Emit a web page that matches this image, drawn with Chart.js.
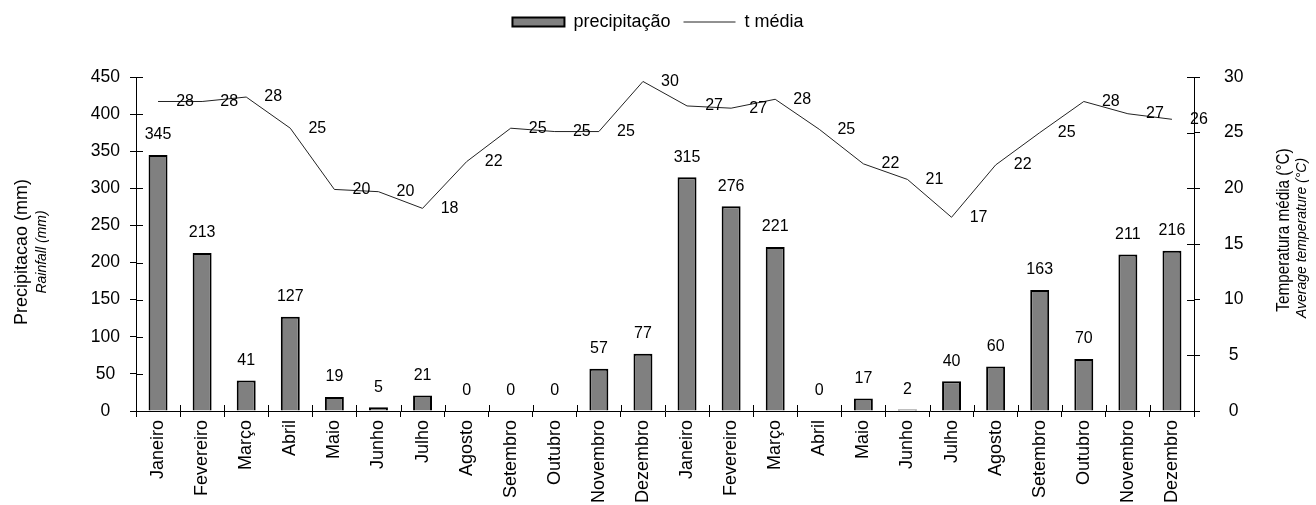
<!DOCTYPE html>
<html lang="pt">
<head>
<meta charset="utf-8">
<title>Precipitação e temperatura média</title>
<script src="https://cdn.jsdelivr.net/npm/chart.js@4.4.1/dist/chart.umd.min.js"></script>
<style>
  html, body { margin: 0; padding: 0; background: #fff; }
  #wrap { width: 1316px; height: 505px; }
</style>
</head>
<body>
<div id="wrap"><canvas id="grafico"></canvas></div>
<script>
/* ---------- dados ---------- */
const meses = ['Janeiro', 'Fevereiro', 'Março', 'Abril', 'Maio', 'Junho',
               'Julho', 'Agosto', 'Setembro', 'Outubro', 'Novembro', 'Dezembro'];
const categorias = meses.concat(meses); // dois anos seguidos

const precipitacao = [345, 213, 41, 127, 19, 5, 21, 0, 0, 0, 57, 77,
                      315, 276, 221, 0, 17, 2, 40, 60, 163, 70, 211, 216];
const tMedia = [27.8, 27.8, 28.2, 25.4, 19.9, 19.7, 18.2, 22.4, 25.4, 25.1, 25.1, 29.6,
                27.4, 27.2, 28.0, 25.3, 22.2, 20.8, 17.4, 22.1, 25.0, 27.8, 26.7, 26.2];

const escalaPrecip = [0, 450, 50]; // min, max, passo
const escalaTemp = [0, 30, 5];

/* ---------- estilo ---------- */
const FONTE = "'Liberation Sans', Arial, sans-serif";
Chart.defaults.font.family = FONTE;
Chart.defaults.color = '#000';

// espaço vazio entre a legenda e a área do gráfico
const espacoPlugin = {
    id: 'espaco',
    beforeInit(chart) {
        Chart.layouts.addBox(chart, {
            position: 'top',
            weight: 500,
            fullSize: true,
            options: {},
            top: 0, left: 0, right: 0, bottom: 0, width: 0, height: 0,
            update(maxWidth) { this.width = maxWidth; this.height = 36; },
            isHorizontal() { return true; },
            draw() {}
        });
    }
};

// rótulos de valor, títulos dos eixos e a parte interna das marcas
const extrasPlugin = {
    id: 'extras',
    afterDraw(chart) {
        const { ctx, chartArea, scales } = chart;
        const x = scales.x, y = scales.y, y1 = scales.y1;
        ctx.save();

        // marcas cruzando os eixos (parte de dentro)
        ctx.strokeStyle = '#000';
        ctx.lineWidth = 1;
        ctx.beginPath();
        for (let i = 0; i <= categorias.length; i++) {
            const px = Math.round(x.getPixelForValue(i - 0.5)) + 0.5;
            ctx.moveTo(px, chartArea.bottom);
            ctx.lineTo(px, chartArea.bottom - 6);
        }
        y.ticks.forEach(t => {
            const py = Math.round(y.getPixelForValue(t.value)) + 0.5;
            ctx.moveTo(chartArea.left, py);
            ctx.lineTo(chartArea.left + 7, py);
        });
        y1.ticks.forEach(t => {
            const py = Math.round(y1.getPixelForValue(t.value)) + 0.5;
            ctx.moveTo(chartArea.right, py);
            ctx.lineTo(chartArea.right - 7, py);
        });
        ctx.stroke();

        // valores das barras
        ctx.fillStyle = '#000';
        ctx.font = '16px ' + FONTE;
        ctx.textAlign = 'center';
        ctx.textBaseline = 'middle';
        precipitacao.forEach((v, i) => {
            ctx.fillText(String(v), x.getPixelForValue(i), y.getPixelForValue(v) - 20);
        });

        // valores da temperatura, à direita do ponto
        tMedia.forEach((v, i) => {
            ctx.fillText(String(Math.round(v)), x.getPixelForValue(i) + 27, y1.getPixelForValue(v));
        });

        // títulos dos eixos (escala < 1 = texto mais estreito)
        const meio = (chartArea.top + chartArea.bottom) / 2;
        const titulo = (txt, fonte, px, py, escala = 1) => {
            ctx.save();
            ctx.translate(px, py);
            ctx.rotate(-Math.PI / 2);
            ctx.scale(escala, 1);
            ctx.font = fonte;
            ctx.fillText(txt, 0, 0);
            ctx.restore();
        };
        titulo('Precipitacao (mm)', '18px ' + FONTE, 22, meio + 8);
        titulo('Rainfall (mm)', 'italic 14px ' + FONTE, 42, meio + 8);
        titulo('Temperatura média (°C)', '18px ' + FONTE, 1284, meio - 14, 0.85);
        titulo('Average temperature (°C)', 'italic 14px ' + FONTE, 1302, meio - 6);

        ctx.restore();
    }
};

new Chart(document.getElementById('grafico'), {
    type: 'bar',
    data: {
        labels: categorias,
        datasets: [
            {
                label: 'precipitação',
                data: precipitacao,
                yAxisID: 'y',
                backgroundColor: '#808080',
                borderColor: '#000',
                borderWidth: 2,
                borderSkipped: 'bottom',
                barPercentage: 0.43,
                categoryPercentage: 1
            },
            {
                type: 'line',
                label: 't média',
                data: tMedia,
                yAxisID: 'y1',
                borderColor: '#222',
                borderWidth: 1,
                pointRadius: 0,
                pointBorderColor: '#222',
                pointBorderWidth: 1,
                tension: 0,
                fill: false
            }
        ]
    },
    options: {
        responsive: true,
        maintainAspectRatio: false,
        animation: false,
        layout: { padding: 0 },
        plugins: {
            tooltip: { enabled: false },
            legend: {
                position: 'top',
                labels: {
                    font: { size: 18 },
                    usePointStyle: true,
                    pointStyleWidth: 52,
                    boxHeight: 9,
                    padding: 13,
                    generateLabels(chart) {
                        const itens = Chart.defaults.plugins.legend.labels.generateLabels(chart);
                        itens[0].pointStyle = 'rect';
                        itens[1].pointStyle = 'line';
                        itens[1].lineWidth = 1;
                        return itens;
                    }
                }
            }
        },
        scales: {
            x: {
                grid: { display: true, drawOnChartArea: false, offset: true, tickLength: 6, color: '#000' },
                border: { display: true, color: '#000', width: 1 },
                ticks: { font: { size: 18 }, minRotation: 90, maxRotation: 90, autoSkip: false, padding: 3 },
                afterFit(scale) { scale.height = 94; }
            },
            y: {
                position: 'left',
                min: escalaPrecip[0], max: escalaPrecip[1],
                grid: { drawOnChartArea: false, tickLength: 6, color: '#000' },
                border: { display: true, color: '#000', width: 1 },
                ticks: { stepSize: escalaPrecip[2], font: { size: 17.5 }, crossAlign: 'center', padding: 10 },
                afterFit(scale) { scale.width = 136; }
            },
            y1: {
                position: 'right',
                min: escalaTemp[0], max: escalaTemp[1],
                grid: { drawOnChartArea: false, tickLength: 6, color: '#000' },
                border: { display: true, color: '#000', width: 1 },
                ticks: { stepSize: escalaTemp[2], font: { size: 17.5 }, crossAlign: 'center', padding: 24 },
                afterFit(scale) { scale.width = 122; }
            }
        }
    },
    plugins: [espacoPlugin, extrasPlugin]
});
</script>
</body>
</html>
